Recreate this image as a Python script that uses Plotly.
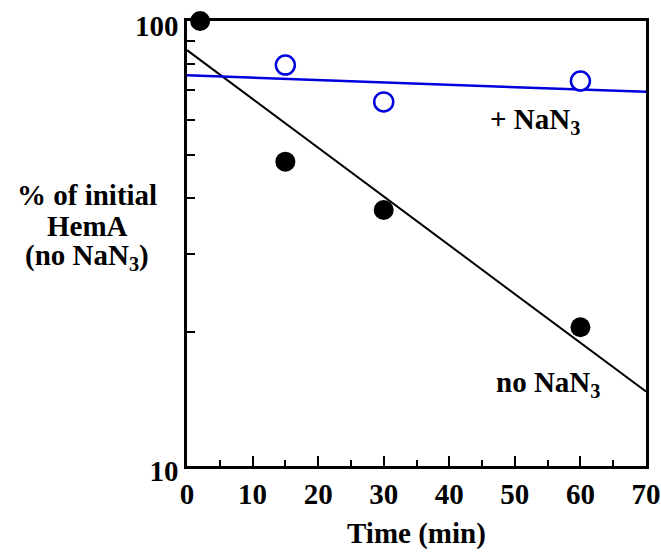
import plotly.graph_objects as go

time_no = [2, 15, 30, 60]
pct_no = [100, 48.3, 37.6, 20.5]
time_plus = [15, 30, 60]
pct_plus = [79.6, 65.8, 73.3]
fit_x = [0, 70]
fit_no = [86, 14.7]
fit_plus = [75.5, 69.3]

ytickvals = [10, 20, 30, 40, 50, 60, 70, 80, 90, 100]
yticktext = ["10", "", "", "", "", "", "", "", "", "100"]
xtickvals = [0, 10, 20, 30, 40, 50, 60, 70]
ylabel_lines = ["% of initial", "HemA", "(no NaN<sub>3</sub>)"]

FONT = "Liberation Serif"
FS = 29
BF = dict(family=FONT, size=FS, color="black", weight="bold")

fig = go.Figure()
fig.add_trace(go.Scatter(x=fit_x, y=fit_no, mode="lines",
                         line=dict(color="black", width=2), cliponaxis=False))
fig.add_trace(go.Scatter(x=fit_x, y=fit_plus, mode="lines",
                         line=dict(color="#0000dd", width=2.5), cliponaxis=False))
fig.add_trace(go.Scatter(x=time_no, y=pct_no, mode="markers",
                         marker=dict(color="black", size=20, symbol="circle"),
                         cliponaxis=False))
fig.add_trace(go.Scatter(x=time_plus, y=pct_plus, mode="markers",
                         marker=dict(color="white", size=19, symbol="circle",
                                     line=dict(color="#0000dd", width=2.5)),
                         cliponaxis=False))

fig.update_layout(
    width=661, height=553, showlegend=False,
    plot_bgcolor="white", paper_bgcolor="white",
    margin=dict(l=187, r=15, t=21, b=87),
    font=BF,
    xaxis=dict(range=[0, 70], tickvals=xtickvals, ticks="inside", ticklen=10,
               tickwidth=2, tickcolor="black", showline=True, linecolor="black",
               linewidth=2.5, mirror=True, showgrid=False, zeroline=False,
               tickfont=BF, automargin=False,
               minor=dict(dtick=5, ticks="inside", ticklen=6, tickwidth=2,
                          tickcolor="black", showgrid=False)),
    yaxis=dict(type="log", range=[1, 2], tickvals=ytickvals, ticktext=yticktext,
               ticks="inside", ticklen=8, tickwidth=2, tickcolor="black",
               showline=True, linecolor="black", linewidth=2.5, mirror=True,
               showgrid=False, zeroline=False, ticklabelshift=5,
               tickfont=BF, automargin=False),
)

# x-axis title
fig.add_annotation(text="Time (min)", xref="paper", yref="paper",
                   x=0.5, y=(466 - 533) / 445, showarrow=False,
                   xanchor="center", yanchor="middle", font=BF)
# y-axis label lines
for i, txt in enumerate(ylabel_lines):
    ypix = 195 + 31 * i
    fig.add_annotation(text=txt, xref="paper", yref="paper",
                       x=(87 - 187) / 459, y=(466 - ypix) / 445,
                       showarrow=False, xanchor="center", yanchor="middle",
                       font=BF)
fig.add_annotation(text="+ NaN<sub>3</sub>", x=53, y=1.775, xref="x", yref="y",
                   showarrow=False, xanchor="center", yanchor="middle", font=BF)
fig.add_annotation(text="no NaN<sub>3</sub>", x=55, y=1.185, xref="x", yref="y",
                   showarrow=False, xanchor="center", yanchor="middle", font=BF)

fig.write_html("out.html")
